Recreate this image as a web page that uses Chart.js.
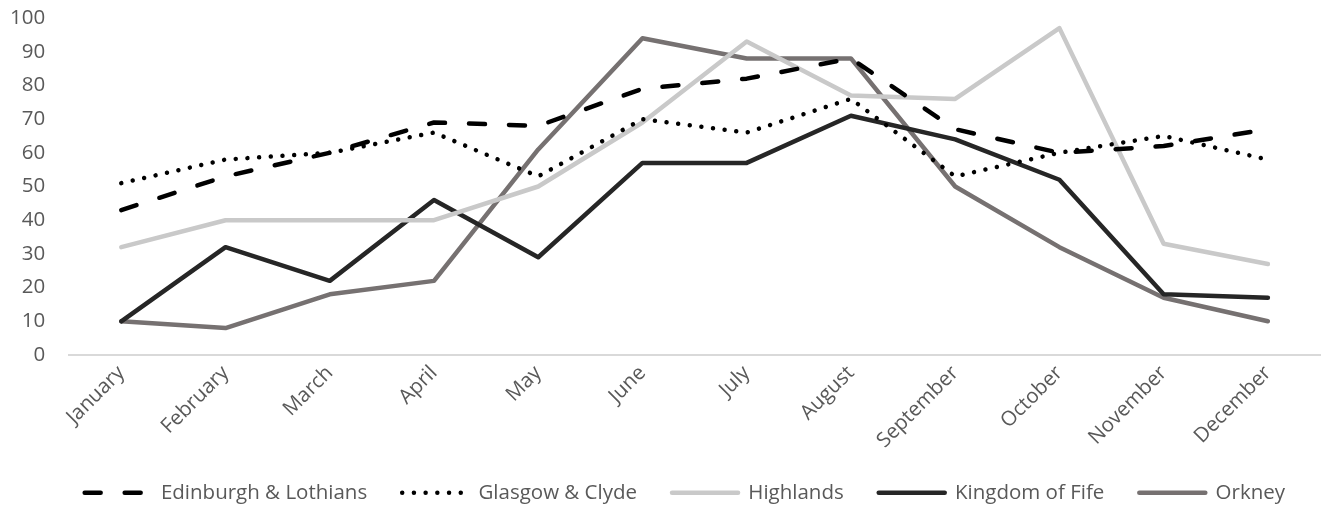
<!DOCTYPE html>
<html>
<head>
<meta charset="utf-8">
<title>Regional monthly figures</title>
<script src="https://cdn.jsdelivr.net/npm/chart.js@4.4.1/dist/chart.umd.min.js"></script>
<style>
  html, body { margin: 0; padding: 0; background: #ffffff; }
  #wrap { width: 1324px; height: 506px; position: relative; }
</style>
</head>
<body>
<div id="wrap"><canvas id="chart"></canvas></div>
<script>
// Months along the category axis
const months = ['January', 'February', 'March', 'April', 'May', 'June',
                'July', 'August', 'September', 'October', 'November', 'December'];

// Monthly values per region
const edinburgh = [43, 53, 60, 69, 68, 79, 82, 88, 67, 60, 62, 67];
const glasgow   = [51, 58, 60, 66, 53, 70, 66, 76, 53, 60, 65, 58];
const highlands = [32, 40, 40, 40, 50, 69, 93, 77, 76, 97, 33, 27];
const fife      = [10, 32, 22, 46, 29, 57, 57, 71, 64, 52, 18, 17];
const orkney    = [10,  8, 18, 22, 61, 94, 88, 88, 50, 32, 17, 10];

// Value axis ticks
const yTicks = [0, 10, 20, 30, 40, 50, 60, 70, 80, 90, 100];

const FONT = { family: '"Open Sans", sans-serif', size: 20.5 };
const TEXT = '#595959';

function series(label, data, color, dash) {
  return {
    label, data,
    borderColor: color,
    backgroundColor: color,
    borderWidth: 4.5,
    borderDash: dash || [],
    borderCapStyle: 'round',
    borderJoinStyle: 'round',
    pointRadius: 0,
    pointHoverRadius: 0,
    tension: 0,
    fill: false
  };
}

// Legend entries keep each line's dash pattern and round caps
function legendLabels(chart) {
  const items = Chart.defaults.plugins.legend.labels.generateLabels(chart);
  items.forEach((item) => {
    const ds = chart.data.datasets[item.datasetIndex];
    item.lineDash = ds.borderDash;
    item.lineCap = 'round';
    item.lineWidth = ds.borderWidth;
    item.strokeStyle = ds.borderColor;
    item.pointStyle = 'line';
  });
  return items;
}

new Chart(document.getElementById('chart'), {
  type: 'line',
  data: {
    labels: months,
    datasets: [
      series('Edinburgh & Lothians', edinburgh, '#000000', [16, 24]),
      series('Glasgow & Clyde', glasgow, '#000000', [0.01, 11.7]),
      series('Highlands', highlands, '#c9c9c9'),
      series('Kingdom of Fife', fife, '#262626'),
      series('Orkney', orkney, '#767171')
    ]
  },
  options: {
    responsive: true,
    maintainAspectRatio: false,
    animation: false,
    events: [],
    layout: { autoPadding: false, padding: { top: 18, left: 6, right: 4, bottom: -7 } },
    scales: {
      x: {
        offset: true,
        grid: { display: false, drawTicks: false },
        border: { display: true, color: '#d9d9d9', width: 2 },
        ticks: {
          color: TEXT, font: FONT, padding: 6,
          minRotation: 45, maxRotation: 45, autoSkip: false
        },
        afterFit: (axis) => { axis.height = 92.5; }
      },
      y: {
        min: yTicks[0],
        max: yTicks[yTicks.length - 1],
        // blank tick marks keep a gap between the numbers and the plot
        grid: { display: true, drawOnChartArea: false, drawTicks: true,
                tickLength: 20, tickColor: 'rgba(0,0,0,0)' },
        border: { display: false },
        ticks: { color: TEXT, font: FONT, padding: 4, stepSize: yTicks[1] - yTicks[0] }
      }
    },
    plugins: {
      tooltip: { enabled: false },
      legend: {
        position: 'bottom',
        align: 'end',
        labels: {
          color: TEXT,
          font: FONT,
          usePointStyle: true,
          pointStyle: 'line',
          pointStyleWidth: 66,
          padding: 35,
          generateLabels: legendLabels
        }
      }
    }
  }
});
</script>
</body>
</html>
